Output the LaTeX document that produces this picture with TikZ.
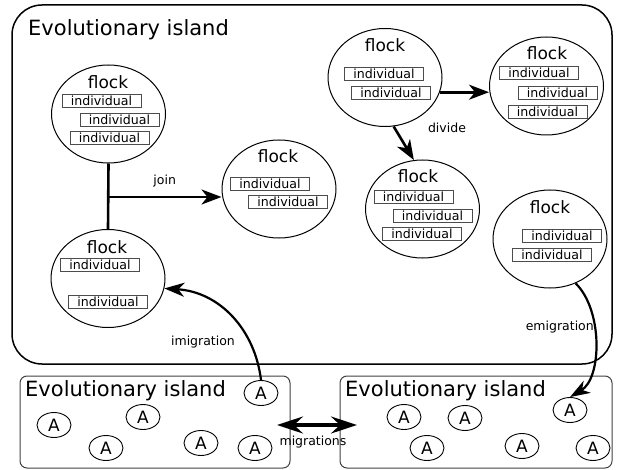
\documentclass[tikz,border=0pt]{standalone}
\usepackage{fontspec}
\setmainfont{DejaVu Sans}
\usetikzlibrary{arrows.meta,calc,shapes.geometric}

\tikzset{
  island/.style={draw, line width=1.5pt, rounded corners=30pt, minimum width=600pt, minimum height=359pt},
  smallisland/.style={draw=black!75, line width=1pt, rounded corners=7pt, minimum width=#1, minimum height=92pt},
  islandname/.style={anchor=base west, inner sep=0pt, font=\fontsize{21}{21}\selectfont},
  flock/.style={draw, ellipse, line width=1pt, minimum width=114pt, minimum height=98pt, inner sep=0pt},
  flockname/.style={anchor=base, inner sep=0pt, font=\fontsize{17}{17}\selectfont},
  indiv/.style={draw=black!70, line width=0.9pt, minimum width=79pt, minimum height=13pt, inner sep=0pt, font=\fontsize{12.6}{12.6}\selectfont},
  agent/.style={draw, ellipse, line width=0.9pt, minimum width=34pt, minimum height=25pt, inner sep=0pt, font=\fontsize{17}{17}\selectfont},
  lbl/.style={inner sep=0pt, font=\fontsize{12.5}{12.5}\selectfont},
  arr/.style={-{Stealth[length=20pt,width=15pt,inset=6pt]}, line width=2.6pt},
  thinarr/.style={-{Stealth[length=20pt,width=14pt,inset=6pt]}, line width=2.2pt},
}

\begin{document}
\begin{tikzpicture}[x=1pt,y=-1pt]
		\useasboundingbox (0,0) rectangle (620,470);
		% islands
		\node[island] (I1) at (312,184.5) {};
		\node[islandname] (I1t) at (28,36) {Evolutionary island};
		\node[smallisland=270pt] (I2) at (155,422) {};
		\node[islandname] (I2t) at (25,396) {Evolutionary island};
		\node[smallisland=272pt] (I3) at (476,422) {};
		\node[islandname] (I3t) at (345,396) {Evolutionary island};
%		
		% flocks
		\node[flock] (F1) at (108.5,114) {};
		\node[flockname] (F1t) at (108,89) {flock};
		\node[indiv] (F1a) at (101.5,101) {individual};
		\node[indiv] (F1b) at (119.5,120) {individual};
		\node[indiv] (F1c) at (109.5,138) {individual};
%		
		\node[flock] (F2) at (279,189) {};
		\node[flockname] (F2t) at (278,163) {flock};
		\node[indiv] (F2a) at (270,184) {individual};
		\node[indiv] (F2b) at (288,202) {individual};
%		
		\node[flock] (F3) at (108,278.5) {};
		\node[flockname] (F3t) at (107,253) {flock};
		\node[indiv] (F3a) at (100,265) {individual};
		\node[indiv] (F3b) at (108,302) {individual};
%		
		\node[flock] (F4) at (385,77.5) {};
		\node[flockname] (F4t) at (385,52) {flock};
		\node[indiv] (F4a) at (384,73.5) {individual};
		\node[indiv] (F4b) at (391,93) {individual};
%		
		\node[flock] (F5) at (546.5,86) {};
		\node[flockname] (F5t) at (547,60) {flock};
		\node[indiv] (F5a) at (539,73) {individual};
		\node[indiv] (F5b) at (557.5,92.5) {individual};
		\node[indiv] (F5c) at (547.5,111.5) {individual};
%		
		\node[flock] (F6) at (422.5,209) {};
		\node[flockname] (F6t) at (418,183) {flock};
		\node[indiv] (F6a) at (413.5,196.5) {individual};
		\node[indiv] (F6b) at (432.5,215.5) {individual};
		\node[indiv] (F6c) at (422,234) {individual};
%		
		\node[flock] (F7) at (550,239) {};
		\node[flockname] (F7t) at (550,213) {flock};
		\node[indiv] (F7a) at (562,236) {individual};
		\node[indiv] (F7b) at (552,255) {individual};
%		
		% agents
		\node[agent] (A1) at (261,393) {A};
		\node[agent] (A2) at (54,425) {A};
		\node[agent] (A3) at (143,417) {A};
		\node[agent] (A4) at (106,448) {A};
		\node[agent] (A5) at (201,443) {A};
		\node[agent] (A6) at (255,448) {A};
		\node[agent] (B1) at (404,417) {A};
		\node[agent] (B2) at (465,418) {A};
		\node[agent] (B3) at (427,448) {A};
		\node[agent] (B4) at (522,446) {A};
		\node[agent] (B5) at (570,410) {A};
		\node[agent] (B6) at (593,448) {A};
%		
		% join
		\coordinate (J) at (108,197);
		\draw[line width=2.6pt] (F1.south) -- (F3.north);
		\draw[arr] (J) -- node[lbl, above=9pt]{join} (J -| F2.west);
		% divide
		\draw[arr] (F4.345) -- (F4.345 -| F5.west);
		\draw[arr] (F4.280) -- (F6.100);
		\node[lbl] (D) at (447,128) {divide};
		% emigration and imigration
		\draw[thinarr] (F7.300) .. controls (603,310) and (602,378) .. (B5.north);
		\node[lbl, anchor=east] (E) at (594,327) {emigration};
		\draw[thinarr] (A1.north) .. controls (255,330) and (220,292) .. (F3.350);
		\node[lbl] (M) at (203,342) {imigration};
		% migrations
		\coordinate (mL) at (277,425);
		\coordinate (mR) at (357,425);
		\draw[{Stealth[length=26pt,width=17pt,inset=9pt]}-{Stealth[length=26pt,width=17pt,inset=9pt]}, line width=3.2pt] (mL) -- (mR);
		\node[lbl] (MM) at (313,442) {migrations};
	\end{tikzpicture}
\end{document}
